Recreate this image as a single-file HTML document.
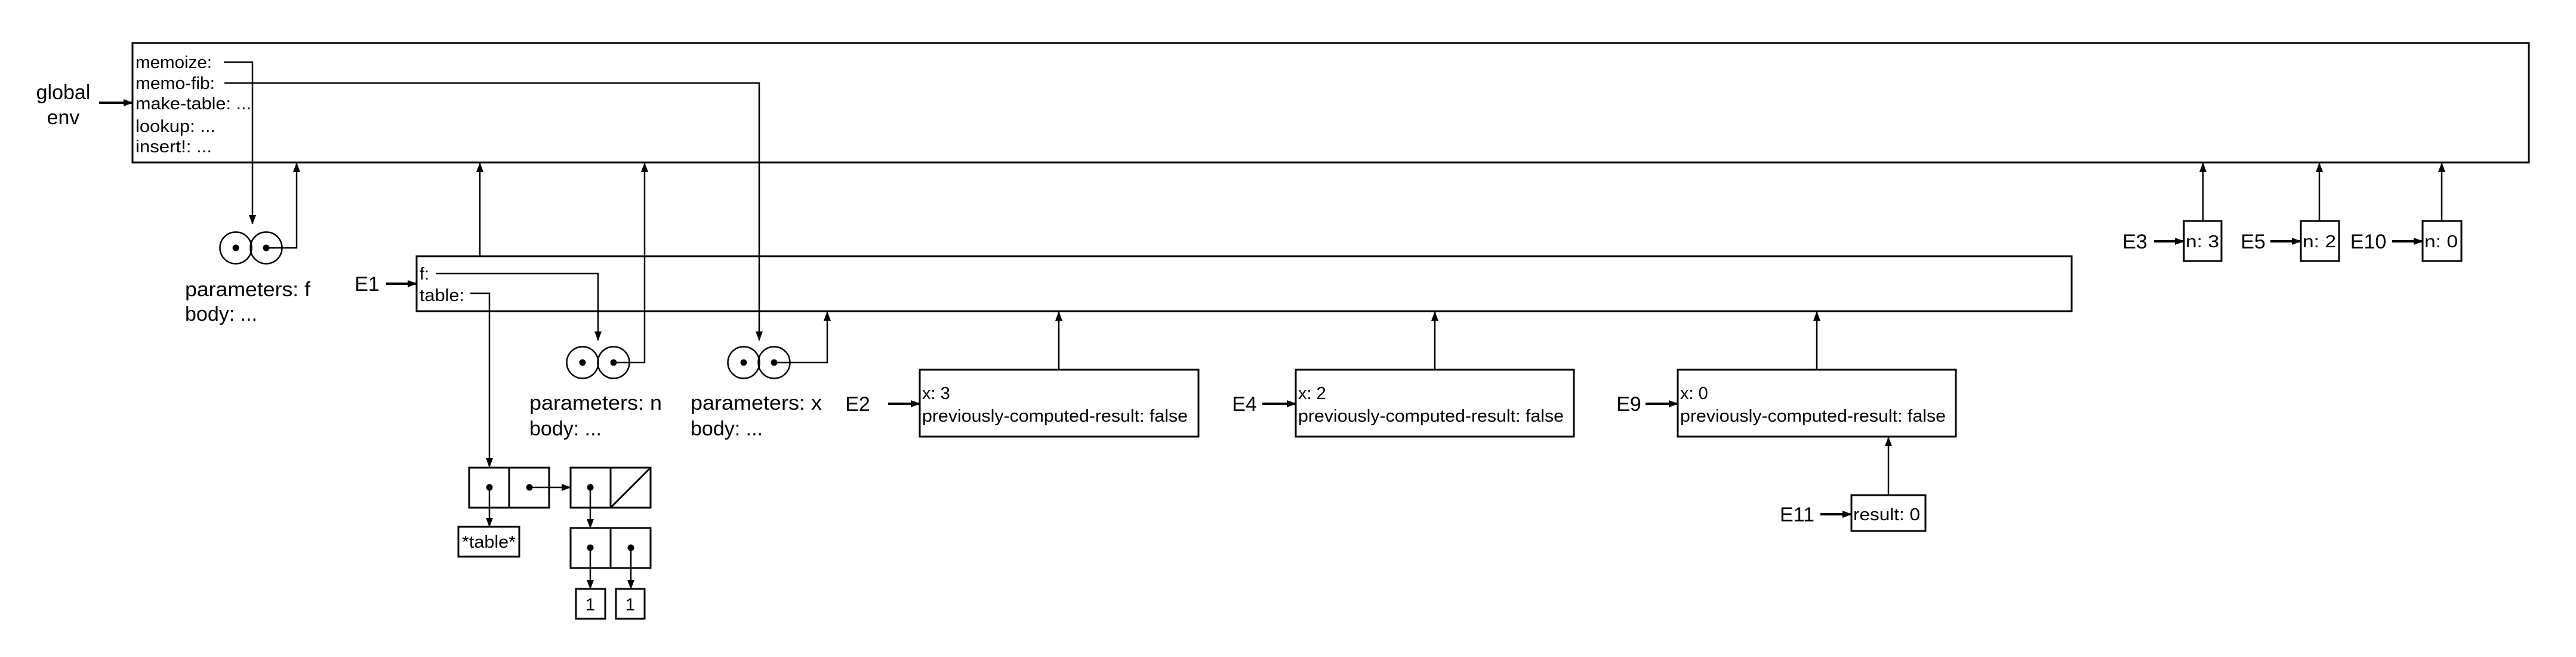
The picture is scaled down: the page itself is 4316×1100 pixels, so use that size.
<!DOCTYPE html>
<html><head><meta charset="utf-8"><style>
html,body{margin:0;padding:0;background:#fff}
svg{display:block}
text{font-family:"Liberation Sans",sans-serif;fill:#000}
</style></head><body>
<svg width="4316" height="1100" viewBox="0 0 4316 1100" xmlns="http://www.w3.org/2000/svg">
<defs>
<marker id="a" markerUnits="userSpaceOnUse" markerWidth="16" markerHeight="14" refX="15" refY="6" orient="auto">
<path d="M0,0 L16,6 L0,12 Z" fill="#000"/>
</marker>
</defs>
<g fill="none" stroke="#000" stroke-width="3">
<rect x="222" y="72" width="4015" height="200"/>
<rect x="698" y="429" width="2773" height="92"/>
<rect x="1541" y="619" width="467" height="112"/>
<rect x="2171" y="619" width="466" height="112"/>
<rect x="2811" y="619" width="466" height="112"/>
<rect x="3102" y="829" width="124" height="60"/>
<rect x="3659" y="370" width="63" height="67"/>
<rect x="3855" y="370" width="64" height="67"/>
<rect x="4059" y="370" width="65" height="67"/>
<rect x="786" y="783" width="134" height="67"/>
<line x1="853" y1="783" x2="853" y2="850"/>
<rect x="956" y="783" width="134" height="67"/>
<line x1="1023" y1="783" x2="1023" y2="850"/>
<line x1="1023" y1="850" x2="1090" y2="783"/>
<rect x="956" y="884" width="134" height="67"/>
<line x1="1023" y1="884" x2="1023" y2="951"/>
<rect x="768" y="882" width="102" height="50"/>
<rect x="965" y="986" width="49" height="50"/>
<rect x="1032" y="986" width="48" height="50"/>
<circle cx="395" cy="415" r="26.5" stroke-width="2.5"/>
<circle cx="446" cy="415" r="26.5" stroke-width="2.5"/>
<circle cx="976" cy="607" r="26.5" stroke-width="2.5"/>
<circle cx="1028" cy="607" r="26.5" stroke-width="2.5"/>
<circle cx="1246" cy="607" r="26.5" stroke-width="2.5"/>
<circle cx="1297" cy="607" r="26.5" stroke-width="2.5"/>
</g>
<g fill="#000">
<circle cx="395" cy="415" r="5.5"/><circle cx="446" cy="415" r="5.5"/>
<circle cx="976" cy="607" r="5.5"/><circle cx="1028" cy="607" r="5.5"/>
<circle cx="1246" cy="607" r="5.5"/><circle cx="1297" cy="607" r="5.5"/>
<circle cx="820" cy="816" r="5.5"/><circle cx="887" cy="816" r="5.5"/>
<circle cx="989" cy="816" r="5.5"/>
<circle cx="989" cy="917" r="5.5"/><circle cx="1057" cy="917" r="5.5"/>
</g>
<g fill="none" stroke="#000" stroke-width="2.5" marker-end="url(#a)">
<line x1="166" y1="172" x2="222" y2="172" stroke-width="4"/>
<polyline points="375,104 423,104 423,375"/>
<polyline points="376,139 1272,139 1272,570"/>
<polyline points="446,415 497,415 497,273"/>
<line x1="804" y1="429" x2="804" y2="273"/>
<polyline points="1028,607 1080,607 1080,273"/>
<polyline points="731,458 1002,458 1002,570"/>
<polyline points="788,491 820,491 820,782"/>
<polyline points="1297,607 1386,607 1386,522"/>
<line x1="1774" y1="619" x2="1774" y2="522"/>
<line x1="2404" y1="619" x2="2404" y2="522"/>
<line x1="3044" y1="619" x2="3044" y2="522"/>
<line x1="3164" y1="829" x2="3164" y2="732"/>
<line x1="3691" y1="370" x2="3691" y2="273"/>
<line x1="3886" y1="370" x2="3886" y2="273"/>
<line x1="4091" y1="370" x2="4091" y2="273"/>
<line x1="647" y1="475" x2="698" y2="475" stroke-width="4"/>
<line x1="1488" y1="676" x2="1541" y2="676" stroke-width="4"/>
<line x1="2115" y1="676" x2="2171" y2="676" stroke-width="4"/>
<line x1="2757" y1="676" x2="2811" y2="676" stroke-width="4"/>
<line x1="3050" y1="861" x2="3102" y2="861" stroke-width="4"/>
<line x1="3609" y1="404" x2="3659" y2="404" stroke-width="4"/>
<line x1="3804" y1="404" x2="3855" y2="404" stroke-width="4"/>
<line x1="4008" y1="404" x2="4059" y2="404" stroke-width="4"/>
<line x1="887" y1="816" x2="956" y2="816"/>
<line x1="820" y1="816" x2="820" y2="882"/>
<line x1="989" y1="816" x2="989" y2="884"/>
<line x1="989" y1="917" x2="989" y2="986"/>
<line x1="1057" y1="917" x2="1057" y2="986"/>
</g>
<g font-size="29">
<text x="227" y="114" textLength="128" lengthAdjust="spacingAndGlyphs">memoize:</text>
<text x="227" y="149" textLength="133" lengthAdjust="spacingAndGlyphs">memo-fib:</text>
<text x="227" y="183" textLength="194" lengthAdjust="spacingAndGlyphs">make-table: ...</text>
<text x="227" y="221" textLength="134" lengthAdjust="spacingAndGlyphs">lookup: ...</text>
<text x="227" y="255" textLength="128" lengthAdjust="spacingAndGlyphs">insert!: ...</text>
<text x="703" y="468">f:</text>
<text x="703" y="504" textLength="75" lengthAdjust="spacingAndGlyphs">table:</text>
<text x="1545" y="668">x: 3</text>
<text x="1545" y="706" textLength="445" lengthAdjust="spacingAndGlyphs">previously-computed-result: false</text>
<text x="2175" y="668">x: 2</text>
<text x="2175" y="706" textLength="445" lengthAdjust="spacingAndGlyphs">previously-computed-result: false</text>
<text x="2815" y="668">x: 0</text>
<text x="2815" y="706" textLength="445" lengthAdjust="spacingAndGlyphs">previously-computed-result: false</text>
<text x="3105" y="871" textLength="112" lengthAdjust="spacingAndGlyphs">result: 0</text>
<text x="3662" y="414" textLength="56" lengthAdjust="spacingAndGlyphs">n: 3</text>
<text x="3858" y="414" textLength="56" lengthAdjust="spacingAndGlyphs">n: 2</text>
<text x="4062" y="414" textLength="56" lengthAdjust="spacingAndGlyphs">n: 0</text>
<text x="819" y="917" text-anchor="middle" textLength="90" lengthAdjust="spacingAndGlyphs">*table*</text>
<text x="989" y="1022" text-anchor="middle">1</text>
<text x="1056" y="1022" text-anchor="middle">1</text>
</g>
<g font-size="34">
<text x="106" y="166" text-anchor="middle">global</text>
<text x="106" y="208" text-anchor="middle">env</text>
<text x="310" y="496" textLength="210" lengthAdjust="spacingAndGlyphs">parameters: f</text>
<text x="310" y="537">body: ...</text>
<text x="887" y="686" textLength="222" lengthAdjust="spacingAndGlyphs">parameters: n</text>
<text x="887" y="729">body: ...</text>
<text x="1157" y="686" textLength="220" lengthAdjust="spacingAndGlyphs">parameters: x</text>
<text x="1157" y="729">body: ...</text>
<text x="615" y="487" text-anchor="middle">E1</text>
<text x="1437" y="688" text-anchor="middle">E2</text>
<text x="2085" y="688" text-anchor="middle">E4</text>
<text x="2729" y="688" text-anchor="middle">E9</text>
<text x="3011" y="873" text-anchor="middle">E11</text>
<text x="3577" y="416" text-anchor="middle">E3</text>
<text x="3775" y="416" text-anchor="middle">E5</text>
<text x="3968" y="416" text-anchor="middle">E10</text>
</g>
</svg>
</body></html>
